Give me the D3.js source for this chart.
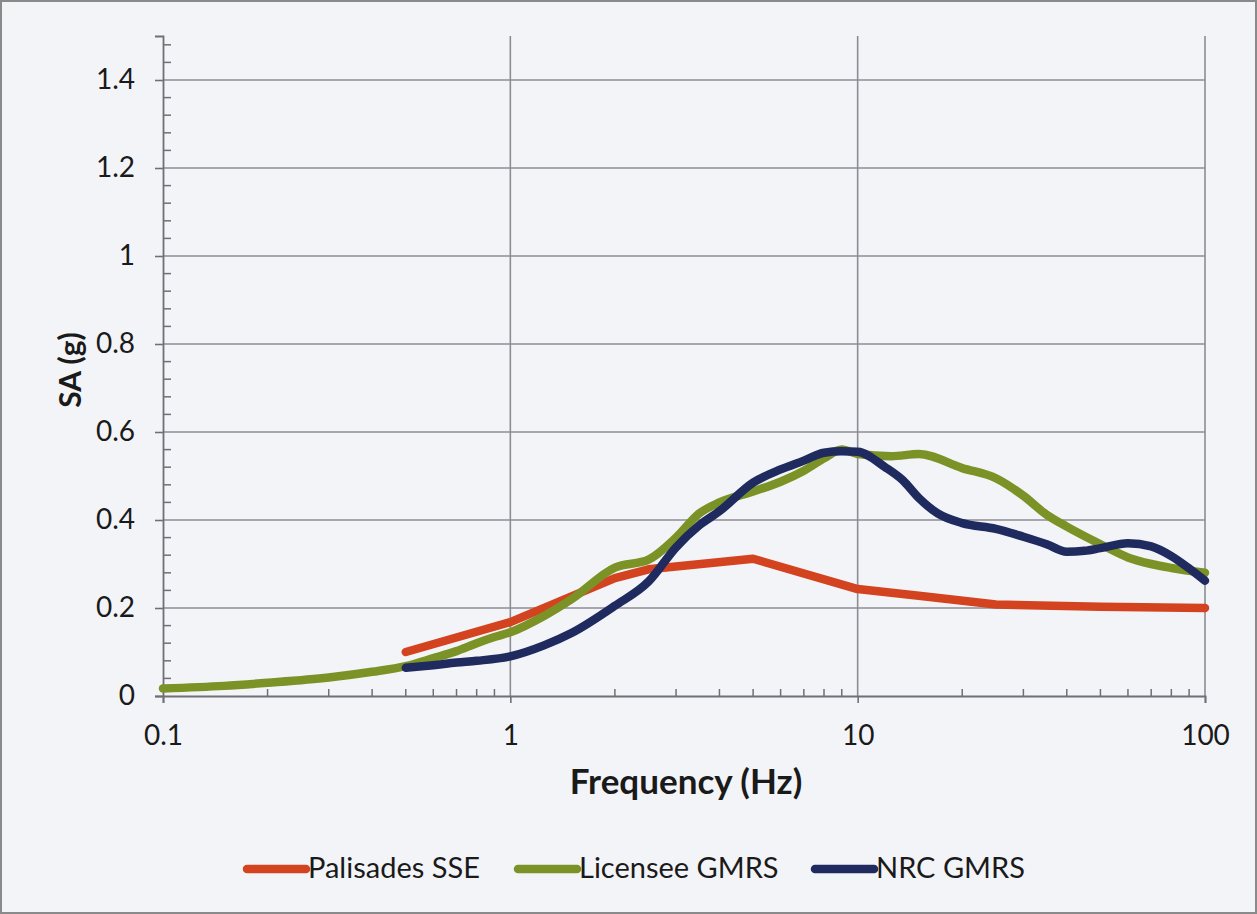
<!DOCTYPE html>
<html>
<head>
<meta charset="utf-8">
<script src="https://cdn.jsdelivr.net/npm/d3@7"></script>
<style>
  body { margin: 0; background: #ffffff; }
  svg text { font-family: Lato, "Open Sans", sans-serif; fill: #1a1a1a; }
</style>
</head>
<body>
<div id="chart"></div>
<script>
// Series (frequency in Hz, SA in g)
var sseFreq = [0.5, 1, 2, 2.5, 5, 10, 15, 25, 50, 100];
var sseSA   = [0.100, 0.168, 0.268, 0.288, 0.312, 0.243, 0.228, 0.208, 0.203, 0.200];

var licFreq = [0.1, 0.15, 0.2, 0.3, 0.4, 0.5, 0.6, 0.7, 0.8, 0.9, 1, 1.25, 1.5, 2, 2.5, 3, 3.5, 4, 5, 6, 7, 8, 9, 10, 12.5, 15, 20, 25, 30, 35, 40, 50, 60, 70, 80, 100];
var licSA   = [0.017, 0.023, 0.030, 0.042, 0.055, 0.068, 0.086, 0.102, 0.120, 0.134, 0.145, 0.182, 0.220, 0.292, 0.310, 0.360, 0.415, 0.440, 0.465, 0.487, 0.512, 0.540, 0.560, 0.550, 0.545, 0.550, 0.518, 0.495, 0.455, 0.412, 0.385, 0.345, 0.315, 0.300, 0.291, 0.280];

var nrcFreq = [0.5, 0.6, 0.7, 0.8, 1, 1.25, 1.5, 2, 2.5, 3, 3.5, 4, 5, 6, 7, 8, 9, 10, 12, 13.5, 15, 17, 20, 25, 30, 35, 40, 45, 50, 60, 70, 80, 90, 100];
var nrcSA   = [0.064, 0.070, 0.076, 0.080, 0.090, 0.115, 0.143, 0.205, 0.260, 0.338, 0.388, 0.420, 0.485, 0.515, 0.535, 0.553, 0.556, 0.555, 0.520, 0.490, 0.450, 0.415, 0.393, 0.380, 0.362, 0.345, 0.328, 0.330, 0.336, 0.347, 0.340, 0.318, 0.290, 0.262];

var seriesNames = ['Palisades SSE', 'Licensee GMRS', 'NRC GMRS'];
var seriesColors = ['#d4431f', '#7b9326', '#1f2a5e'];

var xTickValues = [0.1, 1, 10, 100];
var xTickLabels = ['0.1', '1', '10', '100'];
var yTickValues = [0, 0.2, 0.4, 0.6, 0.8, 1, 1.2, 1.4];
var yTickLabels = ['0', '0.2', '0.4', '0.6', '0.8', '1', '1.2', '1.4'];

var W = 1257, H = 914;
var margin = {top: 36, right: 52, bottom: 218, left: 163};
var x0 = margin.left, x1 = W - margin.right,
    y0 = H - margin.bottom, y1 = margin.top;

var svg = d3.select('#chart').append('svg')
    .attr('width', W)
    .attr('height', H);

svg.append('rect')
    .attr('x', 1).attr('y', 1)
    .attr('width', W - 2).attr('height', H - 2)
    .attr('fill', '#f3f4f8')
    .attr('stroke', '#8a8a8a')
    .attr('stroke-width', 2);

var x = d3.scaleLog().domain([0.1, 100]).range([x0, x1]);
var y = d3.scaleLinear().domain([0, 1.5]).range([y0, y1]);

var gridColor = '#8c8c93';

// horizontal grid
svg.append('g').selectAll('line')
    .data(yTickValues.filter(function(d) { return d > 0; }))
  .enter().append('line')
    .attr('x1', x0).attr('x2', x1)
    .attr('y1', function(d) { return y(d); })
    .attr('y2', function(d) { return y(d); })
    .attr('stroke', gridColor)
    .attr('stroke-width', 1.6);

// vertical grid
svg.append('g').selectAll('line')
    .data(xTickValues.filter(function(d) { return d > 0.1; }))
  .enter().append('line')
    .attr('y1', y1).attr('y2', y0)
    .attr('x1', function(d) { return x(d); })
    .attr('x2', function(d) { return x(d); })
    .attr('stroke', gridColor)
    .attr('stroke-width', 1.6);

// minor ticks
var xMinor = [];
[0.1, 1, 10].forEach(function(dec) {
    for (var k = 2; k <= 9; k++) xMinor.push(dec * k);
});
svg.append('g').selectAll('line')
    .data(xMinor)
  .enter().append('line')
    .attr('x1', function(d) { return x(d); })
    .attr('x2', function(d) { return x(d); })
    .attr('y1', y0).attr('y2', y0 - 7)
    .attr('stroke', '#6f6f75').attr('stroke-width', 1.5);

var yMinor = d3.range(0.04, 1.5, 0.04).filter(function(d) {
    return Math.abs(d / 0.2 - Math.round(d / 0.2)) > 1e-6;
});
svg.append('g').selectAll('line')
    .data(yMinor)
  .enter().append('line')
    .attr('y1', function(d) { return y(d); })
    .attr('y2', function(d) { return y(d); })
    .attr('x1', x0).attr('x2', x0 + 8)
    .attr('stroke', '#6f6f75').attr('stroke-width', 1.5);

// axes
var xAxis = d3.axisBottom(x)
    .tickValues(xTickValues)
    .tickFormat(function(d, i) { return xTickLabels[i]; })
    .tickSize(7).tickPadding(22);
var gx = svg.append('g')
    .attr('transform', 'translate(0,' + y0 + ')')
    .call(xAxis);

var yAxis = d3.axisLeft(y)
    .tickValues(yTickValues)
    .tickFormat(function(d, i) { return yTickLabels[i]; })
    .tickSize(8).tickPadding(20);
var gy = svg.append('g')
    .attr('transform', 'translate(' + x0 + ',0)')
    .call(yAxis);

[gx, gy].forEach(function(g) {
    g.select('.domain').attr('stroke', '#6f6f75').attr('stroke-width', 1.8);
    g.selectAll('.tick line').attr('stroke', '#6f6f75').attr('stroke-width', 1.6);
    g.selectAll('.tick text')
        .attr('fill', '#1a1a1a')
        .style('font-family', 'Lato, "Open Sans", sans-serif')
        .style('font-size', '28px');
});

// lines
var line = d3.line()
    .x(function(d) { return x(d[0]); })
    .y(function(d) { return y(d[1]); });

var series = [
    d3.zip(sseFreq, sseSA),
    d3.zip(licFreq, licSA),
    d3.zip(nrcFreq, nrcSA)
];

svg.append('g').selectAll('path')
    .data(series)
  .enter().append('path')
    .attr('d', function(d, i) {
        return line.curve(i === 0 ? d3.curveLinear : d3.curveMonotoneX)(d);
    })
    .attr('fill', 'none')
    .attr('stroke', function(d, i) { return seriesColors[i]; })
    .attr('stroke-width', 8.5)
    .attr('stroke-linecap', 'round')
    .attr('stroke-linejoin', 'round');

// axis titles
svg.append('text')
    .attr('x', 686)
    .attr('y', 794)
    .attr('text-anchor', 'middle')
    .style('font-size', '35px')
    .style('font-weight', 'bold')
    .text('Frequency (Hz)');

svg.append('text')
    .attr('transform', 'translate(81,370) rotate(-90)')
    .attr('text-anchor', 'middle')
    .style('font-size', '30px')
    .style('font-weight', 'bold')
    .text('SA (g)');

// legend
var legendX = [247, 518, 815];
var legend = svg.append('g').selectAll('g')
    .data(seriesNames)
  .enter().append('g')
    .attr('transform', function(d, i) { return 'translate(' + legendX[i] + ',869)'; });

legend.append('line')
    .attr('x1', 0).attr('x2', 59)
    .attr('y1', 0).attr('y2', 0)
    .attr('stroke', function(d, i) { return seriesColors[i]; })
    .attr('stroke-width', 8.5)
    .attr('stroke-linecap', 'round');

legend.append('text')
    .attr('x', 61)
    .attr('y', 9)
    .style('font-size', '29px')
    .text(function(d) { return d; });
</script>
</body>
</html>
